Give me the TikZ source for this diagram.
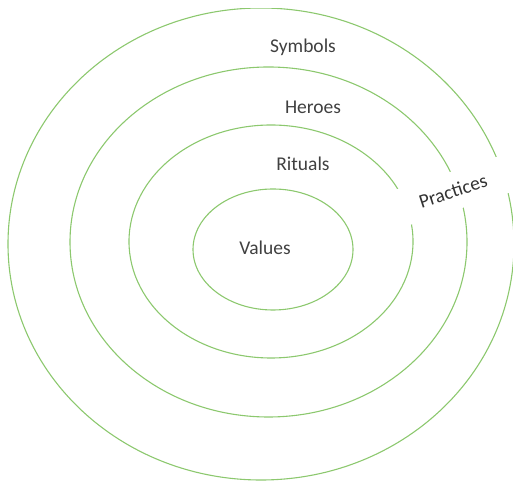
\documentclass[tikz,border=0pt]{standalone}
\usepackage{fontspec}
\setmainfont{Carlito}
\usetikzlibrary{shapes.geometric}
\definecolor{ringgreen}{RGB}{140,200,110}
\definecolor{labelgray}{RGB}{64,64,64}

\begin{document}
\begin{tikzpicture}[
      x=1pt,y=1pt,
      ring/.style={draw=ringgreen,line width=1.1pt,ellipse,inner sep=0pt,outer sep=0pt},
      layer/.style={text=labelgray,anchor=base},
      every node/.style={font=\fontsize{19.5}{22}\selectfont}
    ]
      \useasboundingbox (0,0) rectangle (513,481);
      % outer ring runs off the top edge
      \begin{scope}
        \clip (0,0) rectangle (513,472);
        \node[ring,minimum width=506,minimum height=472] (symbolsring) at (261,237) {};
      \end{scope}
      \node[ring,minimum width=397,minimum height=350] (heroesring) at (268.5,239) {};
      \node[ring,minimum width=284,minimum height=233] (ritualsring) at (271,239.5) {};
      \node[ring,minimum width=160,minimum height=121] (valuesring) at (273,231.5) {};
      % layer names
      \node[layer] (symbols) at (303,428) {Symbols};
      \node[layer] (heroes) at (313,367) {Heroes};
      \node[layer] (rituals) at (303,310) {Rituals};
      \node[layer] (values) at (265,226) {Values};
      \node[fill=white,text=black!80,rotate=18,minimum width=114,minimum height=38] (practices) at (453,290) {Practices};
    \end{tikzpicture}
\end{document}
